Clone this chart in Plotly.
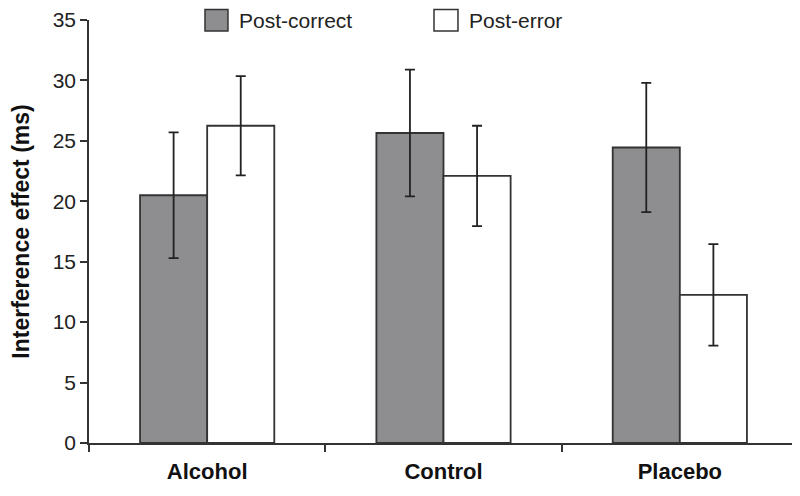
import plotly.graph_objects as go

# interference effect by group
grupos = ['Alcohol', 'Control', 'Placebo']
post_correct = [20.5, 25.65, 24.45]
post_correct_err = [5.2, 5.25, 5.35]
post_error = [26.25, 22.1, 12.25]
post_error_err = [4.1, 4.15, 4.2]

fonte = 'Liberation Sans, Arial, sans-serif'
borda = '#333333'

fig = go.Figure()

fig.add_trace(go.Bar(
    x=grupos, y=post_correct, name='Post-correct',
    marker=dict(color='#8e8e90', line=dict(color=borda, width=1.8)),
    error_y=dict(type='data', array=post_correct_err, color='#222222', thickness=1.8, width=5),
))
fig.add_trace(go.Bar(
    x=grupos, y=post_error, name='Post-error',
    marker=dict(color='white', line=dict(color=borda, width=1.8)),
    error_y=dict(type='data', array=post_error_err, color='#222222', thickness=1.8, width=5),
))

# legend drawn by hand so the boxes get the big size of the original
fig.add_shape(type='rect', xref='paper', yref='paper', x0=0.1636, x1=0.196, y0=0.974, y1=1.025,
              fillcolor='#8e8e90', line=dict(color=borda, width=1.5))
fig.add_shape(type='rect', xref='paper', yref='paper', x0=0.4866, x1=0.5204, y0=0.974, y1=1.025,
              fillcolor='white', line=dict(color=borda, width=1.5))
fig.add_annotation(text='Post-correct', xref='paper', yref='paper', x=0.2087, y=0.999,
                   xanchor='left', yanchor='middle', showarrow=False,
                   font=dict(family=fonte, size=21, color='#222222'))
fig.add_annotation(text='Post-error', xref='paper', yref='paper', x=0.533, y=0.999,
                   xanchor='left', yanchor='middle', showarrow=False,
                   font=dict(family=fonte, size=21, color='#222222'))

fig.update_layout(
    width=800, height=496,
    margin=dict(l=81, r=10, t=12, b=61),
    paper_bgcolor='white', plot_bgcolor='white',
    barmode='group', bargap=0.432, bargroupgap=0,
    showlegend=False,
    font=dict(family=fonte, color='#222222'),
)
fig.update_xaxes(
    automargin=False,
    showline=True, linecolor=borda, linewidth=1.5,
    ticks='outside', tickson='boundaries', ticklen=7, tickcolor=borda, tickwidth=1.5,
    ticklabelstandoff=8,
    tickfont=dict(family=fonte, size=22, color='#111111', weight='bold'),
    showgrid=False, zeroline=False,
)
fig.update_yaxes(
    automargin=False,
    range=[0, 35], tick0=0, dtick=5,
    showline=True, linecolor=borda, linewidth=1.5,
    ticks='outside', ticklen=7, tickcolor=borda, tickwidth=2,
    tickfont=dict(family=fonte, size=21, color='#222222'),
    ticklabeloverflow='allow',
    showgrid=False, zeroline=False,
    title=dict(text='<b>Interference effect (ms)</b>', standoff=18,
               font=dict(family=fonte, size=23, color='#111111')),
)

fig.write_html('out.html')
